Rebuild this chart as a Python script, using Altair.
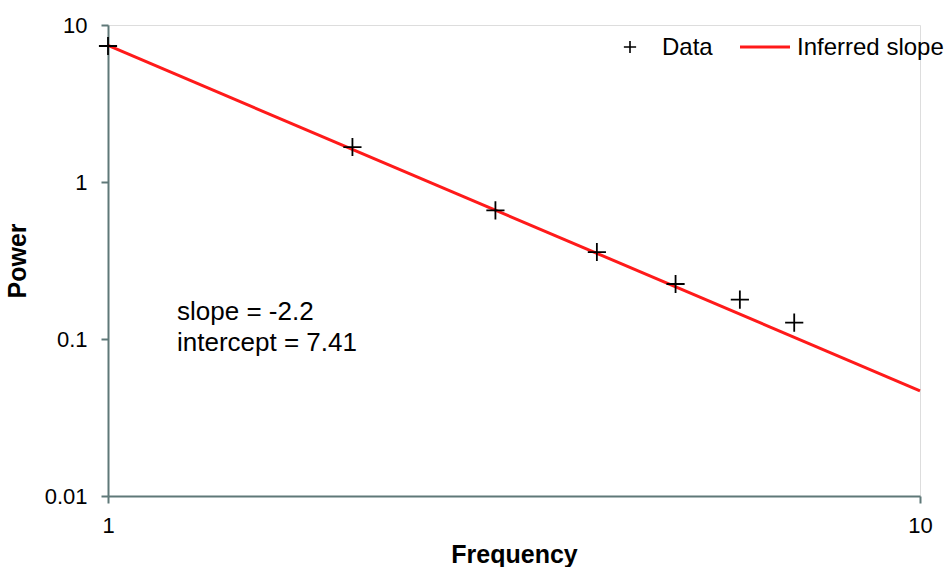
import altair as alt
import pandas as pd

# Data
freq = [1, 2, 3, 4, 5, 6, 7]
power = [7.35, 1.67, 0.66, 0.358, 0.224, 0.178, 0.127]

# Inferred slope line endpoints (power law: 7.41 * f^-2.2)
line_freq = [1, 10]
line_power = [7.41, 0.0468]

annot_lines = ["slope = -2.2", "intercept = 7.41"]
legend_labels = ["Data", "Inferred slope"]

x_ticks = [1, 10]
y_ticks = [0.01, 0.1, 1, 10]

FONT = "Liberation Sans"
AXIS_COLOR = "#5f7878"
RED = "#ff1a1a"

pts = pd.DataFrame({"Frequency": freq, "Power": power})
ln = pd.DataFrame({"Frequency": line_freq, "Power": line_power})

xscale = alt.Scale(type="log", domain=[1, 10], nice=False)
yscale = alt.Scale(type="log", domain=[0.01, 10], nice=False)

xaxis = alt.Axis(values=x_ticks, format="~g", grid=False, title="Frequency",
                 domainColor=AXIS_COLOR, domainWidth=2, tickColor=AXIS_COLOR,
                 tickWidth=2, tickSize=7, labelFont=FONT, labelFontSize=22,
                 labelColor="black", labelPadding=12, titleFont=FONT,
                 titleFontSize=25, titleFontWeight="bold", titleColor="black",
                 titlePadding=6, labelFlush=False)
yaxis = alt.Axis(values=y_ticks, format="~g", grid=False, title="Power",
                 domainColor=AXIS_COLOR, domainWidth=2, tickColor=AXIS_COLOR,
                 tickWidth=2, tickSize=7, labelFont=FONT, labelFontSize=22,
                 labelColor="black", labelPadding=14, titleFont=FONT,
                 titleFontSize=25, titleFontWeight="bold", titleColor="black",
                 titlePadding=14, labelFlush=False)

line = alt.Chart(ln).mark_line(color=RED, strokeWidth=3, clip=False).encode(
    x=alt.X("Frequency:Q", scale=xscale, axis=xaxis),
    y=alt.Y("Power:Q", scale=yscale, axis=yaxis),
)

PLUS = "M-1,0H1M0,-1V1"

points = alt.Chart(pts).mark_point(shape=PLUS, filled=False, color="black",
                                    strokeWidth=1.8, size=330, opacity=1).encode(
    x=alt.X("Frequency:Q", scale=xscale),
    y=alt.Y("Power:Q", scale=yscale),
)

one = pd.DataFrame({"a": [0]})

annot1 = alt.Chart(one).mark_text(
    align="left", baseline="middle", font=FONT, fontSize=26, color="black",
    text=annot_lines[0]
).encode(x=alt.value(69), y=alt.value(287))

annot2 = alt.Chart(one).mark_text(
    align="left", baseline="middle", font=FONT, fontSize=26, color="black",
    text=annot_lines[1]
).encode(x=alt.value(69), y=alt.value(318))

legend_plus = alt.Chart(one).mark_point(
    shape=PLUS, filled=False, color="black", strokeWidth=1.6, size=150, opacity=1
).encode(x=alt.value(522), y=alt.value(22))

legend_line = alt.Chart(one).mark_rule(
    color=RED, strokeWidth=3
).encode(x=alt.value(632), x2=alt.value(682), y=alt.value(22))

legend_text1 = alt.Chart(one).mark_text(
    align="left", baseline="middle", font=FONT, fontSize=24, color="black",
    text=legend_labels[0]
).encode(x=alt.value(554), y=alt.value(23))

legend_text2 = alt.Chart(one).mark_text(
    align="left", baseline="middle", font=FONT, fontSize=24, color="black",
    text=legend_labels[1]
).encode(x=alt.value(689), y=alt.value(23))

chart = alt.layer(
    line, points, annot1, annot2, legend_plus, legend_line, legend_text1, legend_text2
).properties(
    width=812, height=471,
    autosize=alt.AutoSizeParams(type="none"),
    padding={"left": 108, "top": 25, "right": 24, "bottom": 71},
).configure_view(stroke=None).configure(background="white")

chart.save("out.html", embed_options={"renderer": "svg", "actions": False})
